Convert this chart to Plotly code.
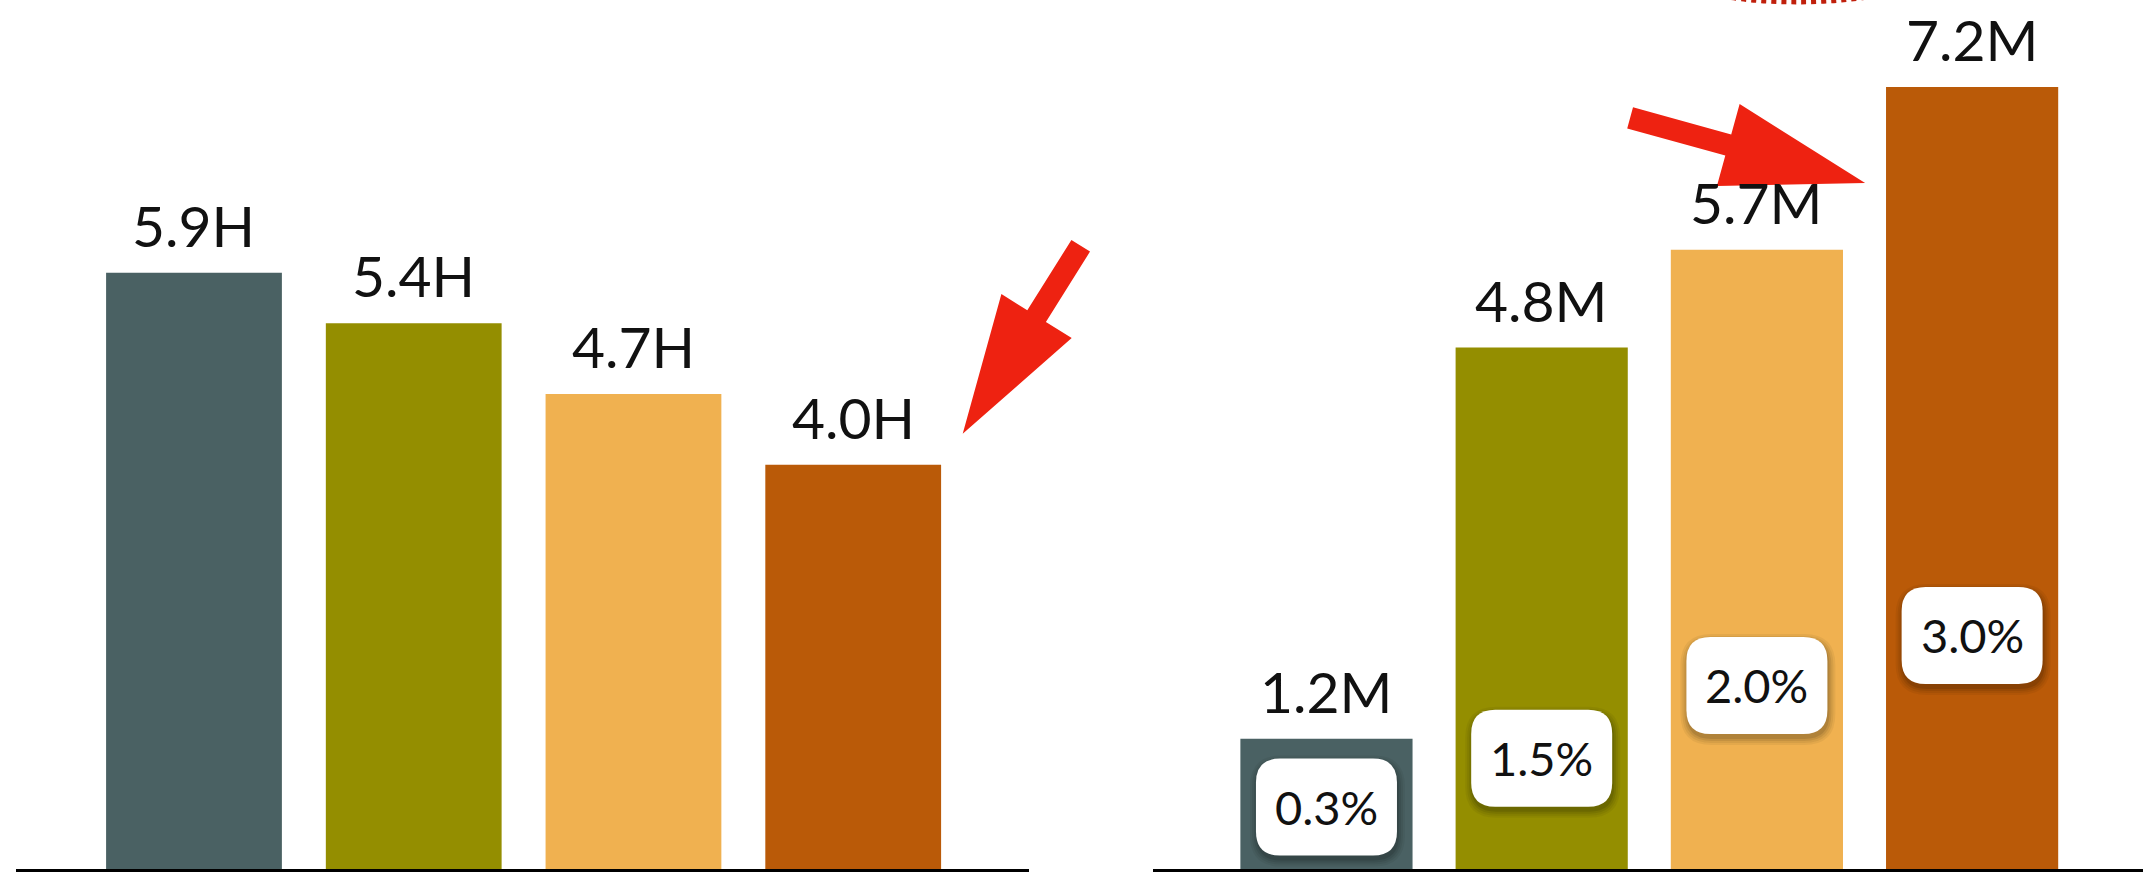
import plotly.graph_objects as go

# ---- data -------------------------------------------------------------
categories = ["A", "B", "C", "D"]
hours = [5.9, 5.4, 4.7, 4.0]            # left panel, hours
millions = [1.2, 4.8, 5.7, 7.2]         # right panel, millions
shares = [0.3, 1.5, 2.0, 3.0]           # right panel, percent badges
share_badge_y = [0.57, 1.02, 1.69, 2.15]  # badge centre heights (right y units)
colors = ["#4A6163", "#948E00", "#F0B150", "#BA5A08"]

FONT = "Lato"
TEXT = "#111111"
RED = "#EE2211"

W, H = 2143, 872
LEFT_DOMAIN = [16 / W, 1029 / W]
LEFT_RANGE = [-0.81, 3.8]
RIGHT_DOMAIN = [1153 / W, 1.0]
RIGHT_RANGE = [-0.806, 3.794]
LEFT_Y = [0, 8.6]
RIGHT_Y = [0, 8.0]

fig = go.Figure()

fig.add_trace(go.Bar(x=categories, y=hours, marker=dict(color=colors, line_width=0),
                     width=0.8, xaxis="x", yaxis="y", hoverinfo="skip"))
fig.add_trace(go.Bar(x=categories, y=millions, marker=dict(color=colors, line_width=0),
                     width=0.8, xaxis="x2", yaxis="y2", hoverinfo="skip"))

annotations = []
shapes = []

label_font = dict(family=FONT, size=57, color=TEXT)

# value labels above bars
for c, v in zip(categories, hours):
    annotations.append(dict(x=c, y=v, xref="x", yref="y", text=f"{v:.1f}H",
                            showarrow=False, yanchor="bottom", yshift=12, font=label_font))
for c, v in zip(categories, millions):
    annotations.append(dict(x=c, y=v, xref="x2", yref="y2", text=f"{v:.1f}M",
                            showarrow=False, yanchor="bottom", yshift=12, font=label_font))


def rounded_rect(cx, cy, w, h, r):
    x0, x1 = cx - w / 2, cx + w / 2
    y0, y1 = cy - h / 2, cy + h / 2
    return (f"M {x0 + r},{y0} L {x1 - r},{y0} Q {x1},{y0} {x1},{y0 + r} "
            f"L {x1},{y1 - r} Q {x1},{y1} {x1 - r},{y1} L {x0 + r},{y1} "
            f"Q {x0},{y1} {x0},{y1 - r} L {x0},{y0 + r} Q {x0},{y0} {x0 + r},{y0} Z")


# percent badges: white rounded boxes with a soft drop shadow
BW, BH, BR = 141, 97, 24
for c, s, by in zip(categories, shares, share_badge_y):
    for grow, alpha in [(7, 0.05), (5, 0.06), (3, 0.08), (1, 0.10)]:
        shapes.append(dict(type="path", xref="x2", yref="y2",
                           xsizemode="pixel", ysizemode="pixel",
                           xanchor=c, yanchor=by,
                           path=rounded_rect(1, -4, BW + 2 * grow, BH + 2 * grow, BR + grow),
                           fillcolor=f"rgba(0,0,0,{alpha})", line=dict(width=0), layer="above"))
    shapes.append(dict(type="path", xref="x2", yref="y2",
                       xsizemode="pixel", ysizemode="pixel",
                       xanchor=c, yanchor=by,
                       path=rounded_rect(0, 0, BW, BH, BR),
                       fillcolor="white", line=dict(width=0), layer="above"))
    annotations.append(dict(x=c, y=by, xref="x2", yref="y2", text=f"{s:.1f}%",
                            showarrow=False,
                            font=dict(family=FONT, size=47, color=TEXT)))


def block_arrow(tail, tip, shaft_w, head_len, head_w):
    (tx, ty), (px, py) = tail, tip
    dx, dy = px - tx, py - ty
    L = (dx * dx + dy * dy) ** 0.5
    ux, uy = dx / L, dy / L
    nx, ny = -uy, ux
    bx, by = px - ux * head_len, py - uy * head_len
    pts = [
        (tx + nx * shaft_w / 2, ty + ny * shaft_w / 2),
        (bx + nx * shaft_w / 2, by + ny * shaft_w / 2),
        (bx + nx * head_w / 2, by + ny * head_w / 2),
        (px, py),
        (bx - nx * head_w / 2, by - ny * head_w / 2),
        (bx - nx * shaft_w / 2, by - ny * shaft_w / 2),
        (tx - nx * shaft_w / 2, ty - ny * shaft_w / 2),
    ]
    return "M " + " L ".join(f"{x:.1f},{y:.1f}" for x, y in pts) + " Z"


def paper_pos(idx, val, domain, xrange, yrange):
    """Paper coordinates of a bar top, so overlays are not clipped to the subplot."""
    fx = (idx - xrange[0]) / (xrange[1] - xrange[0])
    px = domain[0] + fx * (domain[1] - domain[0])
    py = (val - yrange[0]) / (yrange[1] - yrange[0])
    return px, py


# red pointer arrows, placed relative to the last bar of each panel
ax_l, ay_l = paper_pos(len(hours) - 1, hours[-1], LEFT_DOMAIN, LEFT_RANGE, LEFT_Y)
shapes.append(dict(type="path", xref="paper", yref="paper", xsizemode="pixel", ysizemode="pixel",
                   xanchor=ax_l, yanchor=ay_l,
                   path=block_arrow((227.5, 219), (109.5, 31), 22, 139, 83),
                   fillcolor=RED, line=dict(width=0), layer="above"))
ax_r, ay_r = paper_pos(len(millions) - 1, millions[-1], RIGHT_DOMAIN, RIGHT_RANGE, RIGHT_Y)
shapes.append(dict(type="path", xref="paper", yref="paper", xsizemode="pixel", ysizemode="pixel",
                   xanchor=ax_r, yanchor=ay_r,
                   path=block_arrow((-342, -31), (-107, -96), 22, 142, 85),
                   fillcolor=RED, line=dict(width=0), layer="above"))

# dotted ring running off the top edge
shapes.append(dict(type="circle", xref="paper", yref="paper", xsizemode="pixel", ysizemode="pixel",
                   xanchor=ax_r, yanchor=ay_r,
                   x0=-330, x1=-20, y0=85, y1=175,
                   line=dict(color="#C0200C", width=5, dash="dot"), layer="above"))

axis_common = dict(showgrid=False, showticklabels=False, ticks="", showline=True,
                   linecolor="black", linewidth=3, zeroline=False, fixedrange=True)
yaxis_common = dict(showgrid=False, showticklabels=False, ticks="", showline=False,
                    zeroline=True, zerolinecolor="#DDDDDD", zerolinewidth=1, fixedrange=True)

fig.update_layout(
    width=W, height=H,
    margin=dict(l=0, r=0, t=0, b=3),
    paper_bgcolor="white", plot_bgcolor="white",
    showlegend=False, bargap=0.2,
    xaxis=dict(domain=LEFT_DOMAIN, range=LEFT_RANGE, anchor="y", **axis_common),
    yaxis=dict(domain=[0, 1], range=LEFT_Y, anchor="x", **yaxis_common),
    xaxis2=dict(domain=RIGHT_DOMAIN, range=RIGHT_RANGE, anchor="y2", **axis_common),
    yaxis2=dict(domain=[0, 1], range=RIGHT_Y, anchor="x2", **yaxis_common),
    annotations=annotations,
    shapes=shapes,
)

fig.write_html("out.html")
